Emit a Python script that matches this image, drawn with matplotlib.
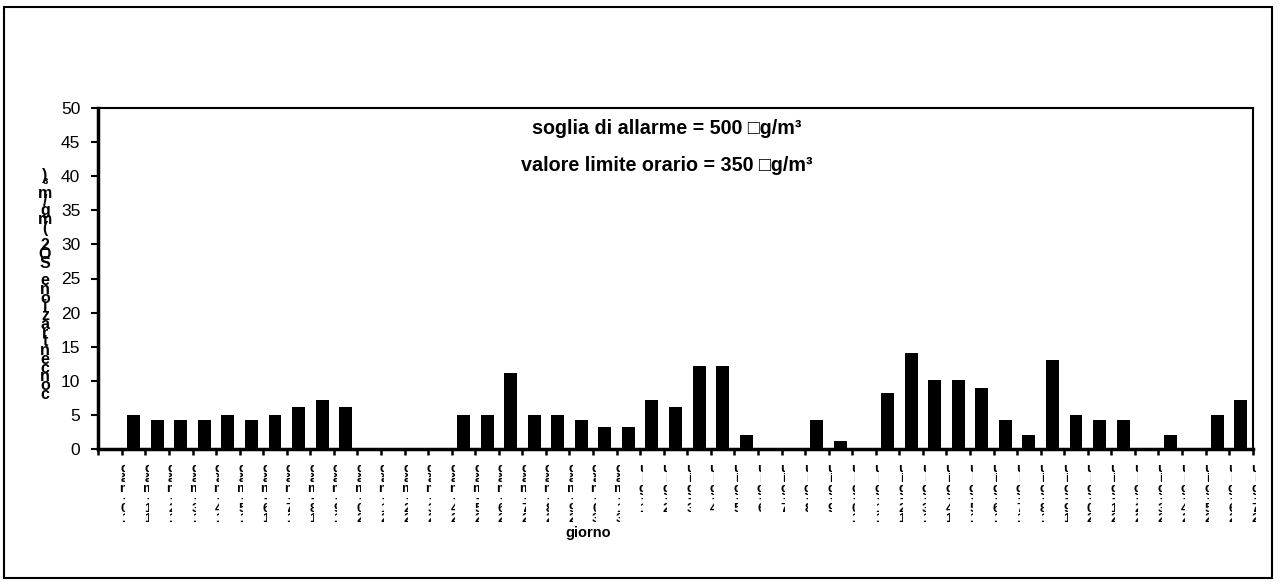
import numpy as np
import matplotlib
matplotlib.use("Agg")
import matplotlib.pyplot as plt
from matplotlib.patches import Rectangle
from matplotlib.transforms import Bbox, TransformedBbox

plt.rcParams['font.family'] = ['Liberation Sans', 'DejaVu Sans']

# giorni (maggio / giugno)
days_may = list(range(10, 32))
days_jun = list(range(1, 28))
day_labels = [f"{d}-mag" for d in days_may] + [f"{d}-giu" for d in days_jun]

# concentrazione SO2 per giorno
so2 = [0, 5, 4.3, 4.3, 4.3, 5, 4.3, 5, 6.1, 7.2, 6.1, 0, 0, 0, 0,
       5, 5, 11.2, 5, 5, 4.3, 3.2, 3.2, 7.2, 6.1, 12.2, 12.2, 2.1, 0, 0,
       4.3, 1.1, 0, 8.2, 14.1, 10.1, 10.1, 9.0, 4.3, 2.1, 13.1, 5, 4.3, 4.3,
       0, 2.1, 0, 5, 7.2]

y_ticks = list(range(0, 51, 5))
notes = ["soglia di allarme = 500 \u25a1g/m\u00b3",
         "valore limite orario = 350 \u25a1g/m\u00b3"]
y_title = "concentrazione SO2 (mg/m\u00b3)"
x_title = "giorno"

fig = plt.figure(figsize=(12.81, 5.85), dpi=100)
# outer frame of the chart area
fig.patches.append(Rectangle((4 / 1281, 7 / 585), 1268 / 1281, 571 / 585,
                             transform=fig.transFigure, fill=False,
                             edgecolor='black', linewidth=1.5))

ax = fig.add_axes([98.3 / 1281, 136 / 585, 1154.4 / 1281, 341 / 585])
x = np.arange(len(so2))
ax.bar(x, so2, width=0.55, color='black')

ax.set_xlim(-0.5, len(so2) - 0.5)
ax.set_ylim(0, 50)
ax.set_yticks(y_ticks)
ax.set_xticks(np.arange(-0.5, len(so2), 1))
ax.set_xticklabels([])
ax.tick_params(axis='y', direction='out', length=5, width=1.5, labelsize=12.5, pad=8)
ax.tick_params(axis='x', direction='out', length=4, width=1.8)
for side, lw in [('left', 2.5), ('bottom', 2.5), ('top', 1.5), ('right', 1.5)]:
    ax.spines[side].set_linewidth(lw)
    ax.spines[side].set_color('black')

# garbled stacked date labels, only left part of the glyphs visible
tr = ax.get_xaxis_transform()
for i, lab in enumerate(day_labels):
    pos = i + 0.5
    t = ax.text(pos + 0.12, -0.04, "\n".join(reversed(lab)), transform=tr,
                ha='center', va='top', fontsize=9.5, fontweight='bold',
                linespacing=0.78, clip_on=True)
    t.set_clip_box(TransformedBbox(Bbox.from_extents(pos - 0.08, -0.5, pos + 0.14, 0), tr))

ax.text(0.492, 0.94, notes[0], transform=ax.transAxes, ha='center', va='center',
        fontsize=14.2, fontweight='bold')
ax.text(0.492, 0.83, notes[1], transform=ax.transAxes, ha='center', va='center',
        fontsize=14.2, fontweight='bold')

fig.text(45 / 1281, 1 - 285 / 585, "\n".join(reversed(y_title)), ha='center', va='center',
         fontsize=11.5, fontweight='bold', linespacing=0.48)
fig.text(588 / 1281, 1 - 533 / 585, x_title, ha='center', va='center',
         fontsize=10.5, fontweight='bold')

fig.savefig("out.png", dpi=100)
